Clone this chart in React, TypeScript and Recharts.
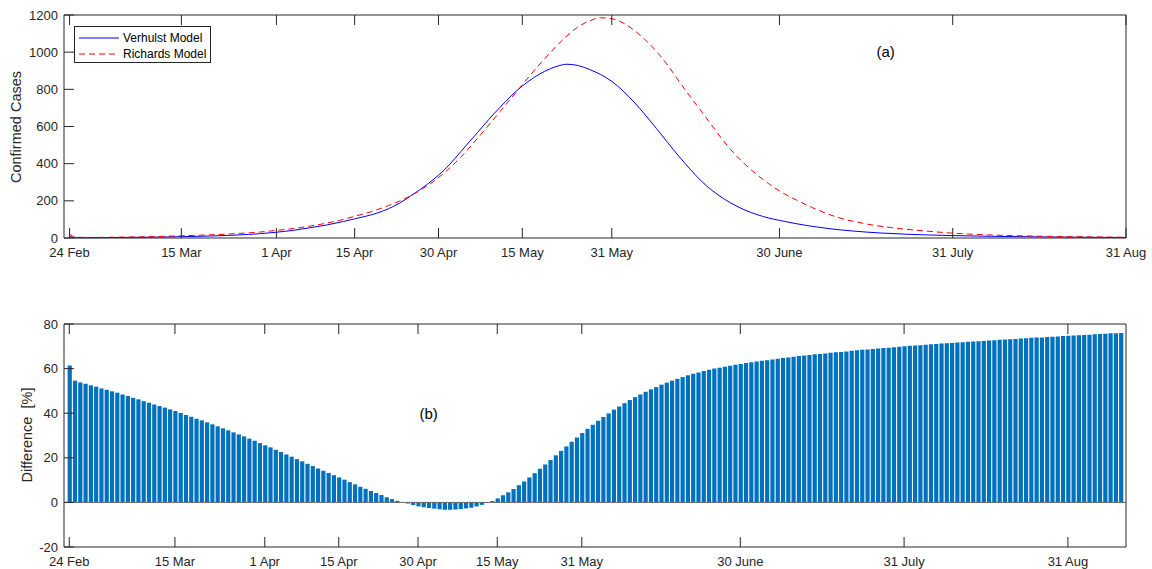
import React from "react";
import {
  LineChart, ComposedChart, Line, Bar, XAxis, YAxis, Legend, ReferenceLine, ReferenceDot,
} from "recharts";

// x positions are days counted from 24 Feb (2020, leap year)
const dateTicks = [0, 20, 37, 51, 66, 81, 97, 127, 158, 189];
const dateLabels = ["24 Feb", "15 Mar", "1 Apr", "15 Apr", "30 Apr", "15 May", "31 May", "30 June", "31 July", "31 Aug"];

const casesTicks = [0, 200, 400, 600, 800, 1000, 1200];
const diffTicks = [-20, 0, 20, 40, 60, 80];

// (a) model curves
const verhulstDays = [0, 1, 3, 6, 10, 15, 20, 25, 30, 34, 37, 40, 43, 46, 49, 51, 53, 55, 57, 59, 61, 63, 65, 67, 69, 71, 73, 75, 77, 79, 81, 83, 85, 87, 89, 91, 93, 95, 97, 99, 101, 103, 105, 107, 109, 111, 113, 115, 117, 119, 121, 123, 125, 127, 130, 133, 136, 140, 145, 150, 158, 165, 175, 189];
const verhulstCases = [9, 2, 1.5, 2, 3, 4.5, 7, 10.5, 16, 23, 31, 41, 55, 70, 89, 103, 117, 134, 157, 187, 226, 267, 313, 365, 430, 500, 568, 638, 703, 765, 818, 862, 897, 922, 935, 928, 907, 880, 843, 792, 731, 662, 589, 514, 440, 371, 307, 255, 212, 177, 148, 126, 108, 95, 77, 62, 50, 38, 27, 20, 13, 9, 5.5, 2.5];

const richardsDays = [0, 1, 3, 6, 10, 15, 20, 25, 30, 34, 37, 40, 43, 46, 49, 51, 53, 55, 57, 59, 61, 63, 65, 67, 69, 71, 73, 75, 77, 79, 81, 83, 85, 87, 89, 91, 93, 95, 97, 99, 101, 103, 105, 107, 109, 111, 113, 115, 117, 119, 121, 123, 125, 127, 129, 131, 133, 135, 137, 139, 141, 144, 147, 150, 153, 158, 165, 175, 189];
const richardsCases = [22, 5, 3, 3.5, 5, 7.5, 12, 17, 24, 32, 41, 51, 64, 80, 100, 117, 133, 152, 174, 198, 227, 262, 302, 350, 405, 468, 537, 608, 680, 752, 825, 897, 965, 1030, 1088, 1137, 1168, 1185, 1180, 1158, 1118, 1066, 1004, 930, 845, 762, 683, 602, 522, 452, 392, 340, 294, 253, 220, 190, 162, 137, 115, 98, 85, 68, 56, 46, 38, 26, 16, 9, 4];

// (b) daily difference in %, one bar per day from 24 Feb
const difference = [
  61.4, 54.6, 53.8, 53.2, 52.5, 51.9, 51.1, 50.5, 49.8, 49.2,
  48.4, 47.7, 46.9, 46.2, 45.4, 44.7, 43.9, 43.2, 42.5, 41.7,
  41.0, 40.1, 39.2, 38.4, 37.5, 36.8, 35.9, 35.0, 34.1, 33.2,
  32.3, 31.4, 30.5, 29.6, 28.6, 27.7, 26.6, 25.6, 24.7, 23.6,
  22.6, 21.5, 20.5, 19.4, 18.4, 17.3, 16.3, 15.2, 14.2, 13.2,
  12.2, 11.2, 10.2, 9.1, 8.1, 7.0, 6.1, 5.1, 4.2, 3.3,
  2.3, 1.5, 0.7, 0.1, -0.5, -1.2, -1.8, -2.2, -2.5, -2.8,
  -3.1, -3.3, -3.3, -3.2, -3.0, -2.7, -2.4, -1.8, -1.1, -0.3,
  0.6, 1.8, 3.2, 4.5, 6.0, 7.7, 9.4, 11.2, 13.1, 15.1,
  17.0, 19.0, 21.1, 23.1, 25.1, 27.2, 29.1, 31.1, 33.0, 34.8,
  36.6, 38.3, 39.9, 41.6, 43.0, 44.5, 45.9, 47.2, 48.4, 49.6,
  50.7, 51.7, 52.8, 53.7, 54.6, 55.4, 56.2, 57.0, 57.7, 58.3,
  58.9, 59.5, 60.0, 60.4, 60.8, 61.3, 61.7, 62.1, 62.5, 62.9,
  63.2, 63.5, 63.8, 64.1, 64.4, 64.7, 65.0, 65.3, 65.6, 65.9,
  66.1, 66.4, 66.6, 66.8, 67.1, 67.3, 67.5, 67.7, 68.0, 68.2,
  68.4, 68.6, 68.8, 69.0, 69.2, 69.4, 69.6, 69.8, 70.0, 70.2,
  70.4, 70.5, 70.7, 70.9, 71.0, 71.2, 71.4, 71.5, 71.7, 71.8,
  72.0, 72.1, 72.3, 72.4, 72.6, 72.7, 72.9, 73.0, 73.2, 73.3,
  73.5, 73.6, 73.8, 73.9, 74.0, 74.2, 74.3, 74.4, 74.6, 74.7,
  74.8, 75.0, 75.1, 75.2, 75.4, 75.5, 75.6, 75.8, 75.9, 76.0,
];

const verhulstRows = verhulstDays.map((d, i) => ({ day: d, value: verhulstCases[i] }));
const richardsRows = richardsDays.map((d, i) => ({ day: d, value: richardsCases[i] }));
const diffRows = difference.map((v, i) => ({ day: i, diff: v }));

const ink = "#262626";
const TICK = 10;
const fmtDate = (v: number) => dateLabels[dateTicks.indexOf(v)] ?? "";

// MATLAB-style ticks: marks point into the box
const BottomTick = (p: any) => (
  <g>
    <line x1={p.x} x2={p.x} y1={p.y} y2={p.y - TICK} stroke={ink} />
    <text x={p.x} y={p.y + 19} textAnchor="middle" fill={ink} fontSize={13}>{fmtDate(p.payload.value)}</text>
  </g>
);
const LeftTick = (p: any) => (
  <g>
    <line x1={p.x} x2={p.x + TICK} y1={p.y} y2={p.y} stroke={ink} />
    <text x={p.x - 6} y={p.y + 4.5} textAnchor="end" fill={ink} fontSize={13}>{p.payload.value}</text>
  </g>
);
const TopTick = (p: any) => <line x1={p.x} x2={p.x} y1={p.y} y2={p.y + TICK} stroke={ink} />;
const RightTick = (p: any) => <line x1={p.x} x2={p.x - TICK} y1={p.y} y2={p.y} stroke={ink} />;

const LegendBox = () => (
  <div
    style={{
      width: 135, height: 35, border: `1px solid ${ink}`, background: "#fff",
      fontSize: 12, color: "#000", position: "relative",
    }}
  >
    <svg width={46} height={35} style={{ position: "absolute", left: 0, top: 0 }}>
      <line x1={4} x2={44} y1={11} y2={11} stroke="#0000ff" strokeWidth={1} />
      <line x1={4} x2={44} y1={27} y2={27} stroke="#ff0000" strokeWidth={1} strokeDasharray="6 4" />
    </svg>
    <div style={{ position: "absolute", left: 48, top: 3, lineHeight: "16px" }}>Verhulst Model</div>
    <div style={{ position: "absolute", left: 48, top: 19, lineHeight: "16px" }}>Richards Model</div>
  </div>
);

const App: React.FC = () => {
  return (
    <div
      style={{
        position: "absolute", left: 0, top: 0, width: 1152, height: 569, background: "#fff",
        fontFamily: '"Liberation Sans", Arial, Helvetica, sans-serif',
      }}
    >
      {/* (a) Confirmed cases */}
      <div style={{ position: "absolute", left: 0, top: 0 }}>
        <LineChart width={1152} height={270} margin={{ top: 0, right: 0, bottom: 0, left: 0 }}>
          <XAxis
            dataKey="day" type="number" domain={[-1, 189]} allowDataOverflow ticks={dateTicks} interval={0}
            tickLine={false} tickSize={0} tickMargin={0} height={32} stroke={ink} tick={BottomTick}
          />
          <XAxis
            xAxisId="top" orientation="top" dataKey="day" type="number" domain={[-1, 189]} allowDataOverflow
            ticks={dateTicks} interval={0} tickLine={false} tickSize={0} tickMargin={0} tick={TopTick}
            height={15} stroke={ink}
          />
          <YAxis
            type="number" domain={[0, 1200]} ticks={casesTicks} interval={0} tickLine={false} tickSize={0}
            tickMargin={0} width={64} stroke={ink} tick={LeftTick}
          />
          <YAxis
            yAxisId="right" orientation="right" type="number" domain={[0, 1200]} ticks={casesTicks} interval={0}
            tickLine={false} tickSize={0} tickMargin={0} tick={RightTick} width={26} stroke={ink}
          />
          <Line
            data={verhulstRows} dataKey="value" type="monotone" stroke="#0000ff" strokeWidth={1}
            dot={false} isAnimationActive={false} name="Verhulst Model"
          />
          <Line
            data={richardsRows} dataKey="value" type="monotone" stroke="#ff0000" strokeWidth={1}
            strokeDasharray="6 4" dot={false} isAnimationActive={false} name="Richards Model"
          />
          <ReferenceDot
            x={146} y={1000} r={0} fill="none" stroke="none"
            label={{ value: "(a)", position: "center", fontSize: 15, fill: "#000" }}
          />
          <Legend
            layout="vertical" align="center" verticalAlign="middle" content={<LegendBox />}
            wrapperStyle={{ left: 74, top: 26, width: 137, height: 37 }}
          />
        </LineChart>
        <div
          style={{
            position: "absolute", left: 16, top: 127, transform: "translate(-50%, -50%) rotate(-90deg)",
            fontSize: 14.5, color: ink, whiteSpace: "nowrap",
          }}
        >
          Confirmed Cases
        </div>
      </div>

      {/* (b) Difference */}
      <div style={{ position: "absolute", left: 0, top: 270 }}>
        <ComposedChart width={1152} height={299} data={diffRows} margin={{ top: 0, right: 0, bottom: 0, left: 0 }}>
          <XAxis
            dataKey="day" type="number" domain={[-1, 200]} allowDataOverflow ticks={dateTicks} interval={0}
            tickLine={false} tickSize={0} tickMargin={0} height={22} stroke={ink} tick={BottomTick}
          />
          <XAxis
            xAxisId="top" orientation="top" dataKey="day" type="number" domain={[-1, 200]} allowDataOverflow
            ticks={dateTicks} interval={0} tickLine={false} tickSize={0} tickMargin={0} tick={TopTick}
            height={54} stroke={ink}
          />
          <YAxis
            type="number" domain={[-20, 80]} ticks={diffTicks} interval={0} tickLine={false} tickSize={0}
            tickMargin={0} width={64} stroke={ink} tick={LeftTick}
          />
          <YAxis
            yAxisId="right" orientation="right" type="number" domain={[-20, 80]} ticks={diffTicks} interval={0}
            tickLine={false} tickSize={0} tickMargin={0} tick={RightTick} width={26} stroke={ink}
          />
          <Bar dataKey="diff" fill="#0072bd" barSize={4.2} isAnimationActive={false} />
          <ReferenceLine y={0} stroke="#666666" strokeWidth={1} />
          <ReferenceDot
            x={68} y={40} r={0} fill="none" stroke="none"
            label={{ value: "(b)", position: "center", fontSize: 15, fill: "#000" }}
          />
        </ComposedChart>
        <div
          style={{
            position: "absolute", left: 27, top: 165, transform: "translate(-50%, -50%) rotate(-90deg)",
            fontSize: 14.5, color: ink, whiteSpace: "pre",
          }}
        >
          {"Difference  [%]"}
        </div>
      </div>
    </div>
  );
};

export default App;
